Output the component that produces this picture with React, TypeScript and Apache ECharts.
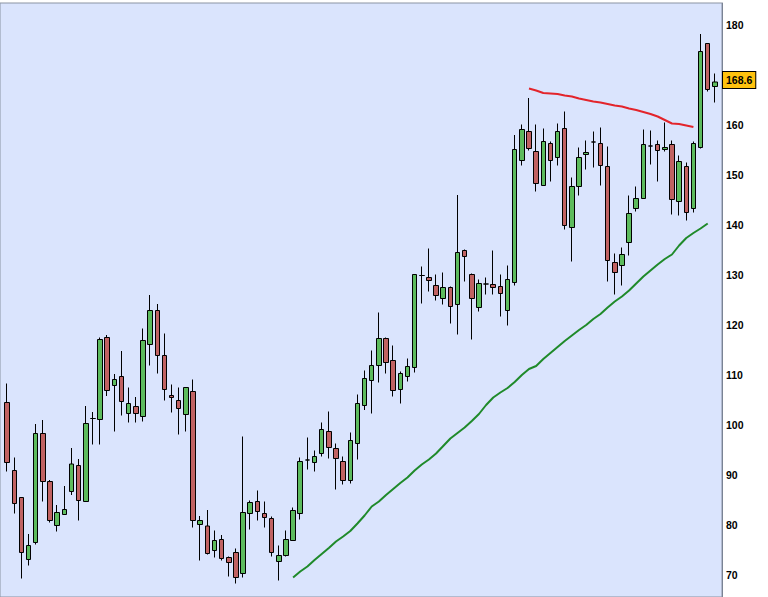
import React, { useEffect, useRef } from "react";
import * as echarts from "echarts";

// Daily candles (1..100): open, close, low, high
const openPrices = [
  104.5, 90.9, 85.5, 73.1, 76.5, 98.3, 88.7, 79.9, 82.1, 86.7,
  91.9, 84.7, 101.3, 101.1, 117.5, 107.9, 109.7, 102.3, 103.7, 101.7,
  116.1, 122.9, 113.9, 105.9, 104.9, 102.1, 106.7, 80.1, 79.8, 74.9,
  77.1, 73.5, 74.5, 70.3, 82.3, 84.7, 82.3, 81.3, 72.7, 73.9,
  76.9, 82.3, 93.0, 92.5, 94.3, 98.7, 95.3, 92.7, 88.9, 96.3,
  103.9, 108.9, 111.9, 117.3, 112.9, 107.1, 109.7, 111.5, 129.9, 129.5,
  127.9, 125.3, 127.5, 124.1, 134.9, 130.1, 123.5, 128.2, 128.1, 127.7,
  122.9, 128.5, 152.9, 158.7, 154.7, 147.9, 156.3, 153.5, 159.3, 139.5,
  147.7, 154.1, 156.6, 156.3, 151.7, 132.5, 131.9, 136.5, 143.3, 145.3,
  155.8, 156.1, 155.1, 156.1, 144.7, 151.7, 143.3, 155.5, 176.3, 167.7,
];
const closePrices = [
  92.5, 84.3, 74.5, 75.9, 98.3, 88.7, 80.9, 82.5, 83.1, 92.2,
  84.9, 100.3, 101.3, 117.1, 106.9, 109.1, 104.7, 104.3, 102.3, 116.9,
  122.9, 113.9, 107.1, 105.5, 103.3, 107.5, 80.9, 80.9, 74.3, 76.9,
  73.3, 72.5, 69.5, 82.5, 84.5, 82.7, 81.5, 74.5, 73.9, 77.1,
  82.9, 92.7, 93.0, 93.7, 99.1, 95.5, 93.3, 88.9, 96.9, 104.3,
  109.3, 111.9, 117.3, 112.5, 106.9, 110.3, 111.7, 130.1, 129.9, 128.9,
  125.9, 127.5, 123.7, 134.5, 133.7, 125.3, 128.3, 128.2, 127.5, 126.3,
  129.1, 155.1, 159.1, 155.3, 148.3, 156.7, 152.9, 158.7, 139.9, 147.7,
  153.5, 154.5, 156.6, 151.9, 132.9, 130.5, 134.1, 142.3, 145.3, 156.1,
  155.8, 154.9, 155.5, 145.1, 152.7, 142.5, 156.3, 174.7, 167.1, 168.6,
];
const lowPrices = [
  90.7, 82.3, 69.3, 71.9, 76.1, 84.7, 80.5, 78.7, 82.1, 86.0,
  80.9, 84.7, 96.1, 96.1, 105.8, 98.7, 101.9, 100.5, 100.5, 100.7,
  111.9, 110.3, 104.9, 102.5, 98.1, 98.7, 79.5, 72.9, 74.1, 73.5,
  72.9, 69.7, 68.3, 69.5, 79.1, 80.9, 79.5, 73.7, 68.9, 73.7,
  76.9, 81.1, 91.1, 90.7, 93.7, 93.3, 87.1, 88.1, 88.3, 93.1,
  103.0, 102.3, 108.5, 110.3, 105.7, 104.3, 108.7, 110.5, 124.3, 126.7,
  124.9, 124.1, 120.3, 118.1, 128.7, 117.1, 122.7, 126.1, 126.1, 121.7,
  119.9, 127.9, 151.9, 154.9, 146.7, 147.9, 148.7, 151.9, 139.1, 132.7,
  145.9, 151.1, 151.5, 147.9, 128.7, 126.1, 127.9, 133.9, 142.7, 145.3,
  152.1, 148.7, 154.7, 142.1, 141.9, 140.9, 142.5, 155.3, 166.7, 164.5,
];
const highPrices = [
  108.3, 93.5, 85.5, 78.2, 100.2, 101.0, 89.0, 84.0, 87.8, 95.4,
  93.2, 103.8, 102.6, 117.5, 118.0, 110.2, 114.8, 107.5, 105.6, 119.3,
  126.0, 124.2, 118.3, 108.1, 107.5, 107.5, 109.1, 81.8, 83.0, 78.9,
  78.0, 73.7, 75.3, 97.7, 84.9, 86.9, 84.7, 81.7, 75.9, 78.9,
  83.5, 93.5, 97.5, 94.9, 100.5, 102.7, 96.3, 93.7, 98.5, 106.1,
  110.9, 114.9, 122.5, 117.5, 115.9, 110.7, 113.3, 130.1, 131.7, 135.3,
  130.1, 130.5, 127.7, 146.0, 135.1, 130.3, 129.1, 129.5, 134.9, 130.1,
  131.9, 158.0, 160.1, 165.4, 160.1, 159.3, 156.7, 160.3, 162.7, 149.5,
  155.5, 156.9, 158.7, 159.5, 155.7, 134.3, 135.5, 145.9, 147.7, 159.1,
  158.9, 156.9, 160.5, 156.9, 153.9, 152.5, 156.7, 178.2, 176.3, 170.3,
];

// Red average: candles 74..97
const redStart = 74;
const redLine = [
  167.3, 166.9, 166.4, 166.3, 166.2, 165.9, 165.7, 165.3, 165.0, 164.7,
  164.5, 164.2, 163.9, 163.7, 163.3, 163.0, 162.6, 162.2, 161.7, 161.0,
  160.3, 160.2, 159.9, 159.6,
];

// Green average: candles 41..99
const greenStart = 41;
const greenLine = [
  69.5, 70.7, 71.7, 73.0, 74.2, 75.4, 76.7, 77.7, 78.8, 80.3,
  81.9, 83.7, 84.7, 86.0, 87.2, 88.4, 89.5, 90.9, 92.1, 93.1,
  94.3, 95.8, 97.3, 98.4, 99.5, 100.8, 102.2, 104.0, 105.5, 106.5,
  107.4, 108.6, 110.0, 111.2, 111.8, 113.2, 114.4, 115.6, 116.8, 117.9,
  119.0, 120.0, 121.2, 122.2, 123.5, 124.7, 125.7, 126.9, 128.3, 129.7,
  130.9, 132.1, 133.2, 134.1, 135.9, 137.4, 138.4, 139.3, 140.3,
];

const yTicks = [70, 80, 90, 100, 110, 120, 130, 140, 150, 160, 170, 180];
const lastPrice = 168.6;

export default function App() {
  const ref = useRef<HTMLDivElement>(null);

  useEffect(() => {
    if (!ref.current) return;
    const chart = echarts.init(ref.current, undefined, { renderer: "svg" });

    const n = openPrices.length;
    // one blank slot on each side
    const categories = ["", ...openPrices.map((_, i) => String(i + 1)), ""];
    const candles: any[] = ["-"];
    for (let i = 0; i < n; i++) {
      candles.push([openPrices[i], closePrices[i], lowPrices[i], highPrices[i]]);
    }
    candles.push("-");

    const lineData = (start: number, vals: number[]) => {
      const arr: any[] = new Array(n + 2).fill("-");
      vals.forEach((v, k) => {
        arr[start + k] = v;
      });
      return arr;
    };

    const font = 'Arial, "Liberation Sans", sans-serif';

    chart.setOption({
      animation: false,
      backgroundColor: "#ffffff",
      grid: {
        left: 0,
        top: 3,
        right: 46,
        bottom: 0,
        show: true,
        backgroundColor: "#dae4fd",
        borderColor: "#8a93a3",
        borderWidth: 1,
      },
      xAxis: {
        type: "category",
        data: categories,
        boundaryGap: false,
        show: false,
      },
      yAxis: {
        type: "value",
        position: "right",
        min: 65.6,
        max: 184.4,
        splitLine: { show: false },
        axisLine: { show: true, lineStyle: { color: "#7a8394", width: 1 } },
        axisTick: { show: false },
        axisLabel: {
          customValues: yTicks,
          margin: 4,
          color: "#000",
          fontSize: 10.5,
          fontWeight: "bold",
          fontFamily: font,
        },
      },
      series: [
        {
          type: "candlestick",
          data: candles,
          barWidth: 5,
          itemStyle: {
            color: "#5dbb5d",
            color0: "#c06262",
            borderColor: "#000",
            borderColor0: "#000",
            borderColorDoji: "#000",
            borderWidth: 1,
          },
          markLine: {
            silent: true,
            symbol: "none",
            lineStyle: { color: "rgba(0,0,0,0)", width: 0, type: "solid" },
            data: [{ yAxis: lastPrice }],
            label: {
              show: true,
              position: "end",
              distance: 1,
              offset: [0, -2],
              formatter: String(lastPrice),
              backgroundColor: "#ffc20e",
              borderColor: "#000",
              borderWidth: 1,
              padding: [3, 3, 2, 3],
              color: "#000",
              opacity: 1,
              fontSize: 10.5,
              fontWeight: "bold",
              fontFamily: font,
            },
            z: 10,
          },
        },
        {
          type: "line",
          data: lineData(redStart, redLine),
          showSymbol: false,
          symbol: "none",
          lineStyle: { color: "#e3242b", width: 2 },
          z: 3,
        },
        {
          type: "line",
          data: lineData(greenStart, greenLine),
          showSymbol: false,
          symbol: "none",
          lineStyle: { color: "#1f8a2a", width: 2 },
          z: 3,
        },
      ],
    });

    return () => chart.dispose();
  }, []);

  return (
    <div
      ref={ref}
      style={{ position: "absolute", left: 0, top: 0, width: 768, height: 597 }}
    />
  );
}
